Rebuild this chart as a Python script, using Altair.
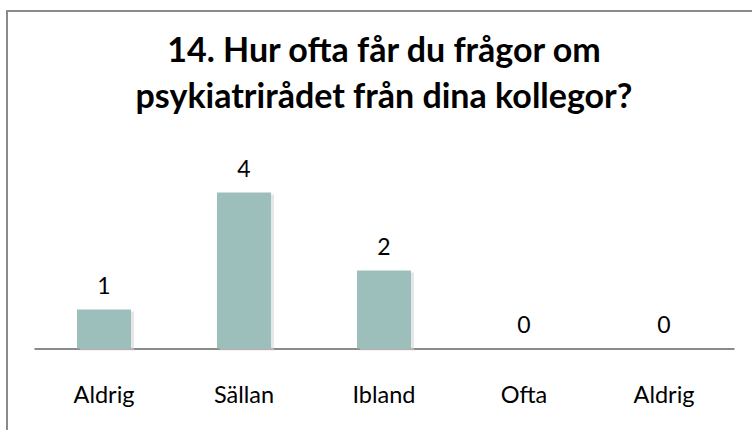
import json
import altair as alt
import pandas as pd

categories = ["Aldrig", "Sällan", "Ibland", "Ofta", "Aldrig"]
values = [1, 4, 2, 0, 0]
title_lines = ["14. Hur ofta får du frågor om", "psykiatrirådet från dina kollegor?"]

df = pd.DataFrame({"pos": list(range(len(categories))), "cat": categories, "val": values})

label_expr = json.dumps(categories, ensure_ascii=False) + "[datum.value]"

x = alt.X(
    "pos:N",
    scale=alt.Scale(paddingInner=0.614, paddingOuter=0.307),
    axis=alt.Axis(
        title=None,
        labelExpr=label_expr,
        labelAngle=0,
        labelFont="Lato",
        labelFontSize=23.5,
        labelColor="#000000",
        labelBaseline="alphabetic",
        labelPadding=54,
        ticks=False,
        tickSize=0,
        domainColor="#8a8a8a",
        domainWidth=2,
        grid=False,
    ),
)
y = alt.Y("val:Q", scale=alt.Scale(domain=[0, 5]), axis=None)

base = alt.Chart(df)

shadow = base.mark_bar(color="#d4d4d4", opacity=0.55, xOffset=3, yOffset=2).encode(x=x, y=y)
bars = base.mark_bar(color="#9dbfbb").encode(x=x, y=y)
labels = base.mark_text(
    baseline="alphabetic", dy=-16, font="Lato", fontSize=23, color="#000000"
).encode(x=x, y=y, text="val:Q")

frame = alt.Chart(pd.DataFrame({"a": [0]})).mark_rect(
    fill=None, stroke="#8a8a8a", strokeWidth=2
).encode(
    x=alt.value(-27), x2=alt.value(760), y=alt.value(-142.5), y2=alt.value(300)
)

chart = alt.layer(frame, shadow, bars, labels).properties(
    width=700,
    height=195,
    background="#ffffff",
    title=alt.TitleParams(
        text=title_lines,
        font="Lato",
        fontSize=34,
        fontWeight="bold",
        color="#000000",
        anchor="middle",
        frame="group",
        baseline="bottom",
        lineHeight=46,
        offset=-139,
    ),
    autosize=alt.AutoSizeParams(type="none"),
    padding={"left": 34, "top": 153.5, "right": 18, "bottom": 81.5},
).configure_view(strokeWidth=0, stroke="transparent")

chart.save("out.html", embed_options={"renderer": "svg", "actions": False})
